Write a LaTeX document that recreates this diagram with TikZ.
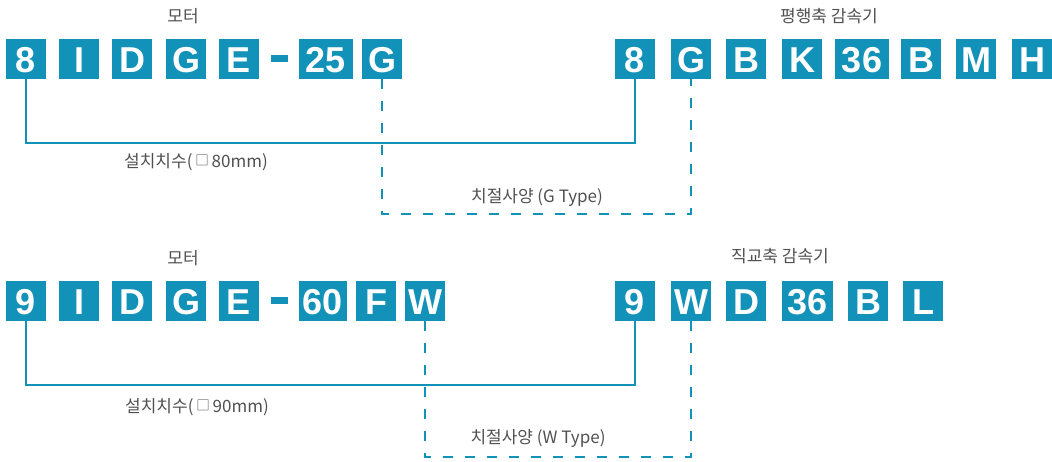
\documentclass[tikz,border=0pt]{standalone}
\usepackage{fontspec}
\setmainfont{Liberation Sans}
\newfontfamily\kofont{Noto Sans CJK KR}
\definecolor{codeblue}{RGB}{18,146,184}
\definecolor{labelgray}{RGB}{80,80,80}
\newcommand{\sqmark}{\,\raisebox{1.6pt}{\fontsize{13.5}{13.5}\selectfont □}\,}
\begin{document}
\begin{tikzpicture}[x=1pt, y=-1pt,
		code/.style={fill=codeblue, text=white, inner sep=0pt, minimum width=40pt, minimum height=40pt,
			text height=26pt, text depth=0pt, font=\fontsize{36}{36}\selectfont\bfseries},
		wide/.style={minimum width=#1},
		bar/.style={fill=codeblue, inner sep=0pt, minimum width=17pt, minimum height=7pt},
		tag/.style={text=labelgray, inner sep=0pt, font=\kofont\fontsize{17}{17}\selectfont},
		size line/.style={draw=codeblue, line width=1.1pt},
		type line/.style={draw=codeblue, line width=1.1pt, dash pattern=on 10pt off 12pt}
		]
	\useasboundingbox (0,0) rectangle (1052,461);

	% first model
	\node [tag] (mt1) at (183,16) {모터};
	\node [code] (m1) at (26,59) {8};
	\node [code] (m2) at (79,59) {I};
	\node [code] (m3) at (132,59) {D};
	\node [code] (m4) at (186,59) {G};
	\node [code] (m5) at (239,59) {E};
	\node [bar] (mb1) at (279.5,58.5) {};
	\node [code,wide=54pt] (m6) at (326,59) {25};
	\node [code] (m7) at (382,59) {G};

	\node [tag] (gt1) at (829,16) {평행축 감속기};
	\node [code] (g1) at (635,59) {8};
	\node [code] (g2) at (691,59) {G};
	\node [code] (g3) at (746,59) {B};
	\node [code] (g4) at (802,59) {K};
	\node [code,wide=54pt] (g5) at (862,59) {36};
	\node [code] (g6) at (921,59) {B};
	\node [code] (g7) at (976,59) {M};
	\node [code] (g8) at (1032,59) {H};

	\coordinate (s1) at (0,143);
	\coordinate (t1) at (0,214);
	\draw [size line] (m1.south) -- (m1.south |- s1) -- (g1.south |- s1) -- (g1.south);
	\draw [type line] (m7.south) -- (m7.south |- t1) -- (g2.south |- t1) -- (g2.south);
	\node [tag] (sl1) at (196,162) {설치치수(\sqmark80mm)};
	\node [tag] (tl1) at (537,197) {치절사양 (G Type)};

	% second model
	\node [tag] (mt2) at (183,258) {모터};
	\node [code] (n1) at (26,301) {9};
	\node [code] (n2) at (79,301) {I};
	\node [code] (n3) at (132,301) {D};
	\node [code] (n4) at (186,301) {G};
	\node [code] (n5) at (239,301) {E};
	\node [bar] (nb1) at (279.5,300.5) {};
	\node [code,wide=48pt] (n6) at (323,301) {60};
	\node [code] (n7) at (376,301) {F};
	\node [code] (n8) at (425,301) {W};

	\node [tag] (ht1) at (780,256) {직교축 감속기};
	\node [code] (h1) at (635,301) {9};
	\node [code] (h2) at (691,301) {W};
	\node [code] (h3) at (746,301) {D};
	\node [code,wide=51pt] (h4) at (807.5,301) {36};
	\node [code] (h5) at (868,301) {B};
	\node [code] (h6) at (923,301) {L};

	\coordinate (s2) at (0,385);
	\coordinate (t2) at (0,457);
	\draw [size line] (n1.south) -- (n1.south |- s2) -- (h1.south |- s2) -- (h1.south);
	\draw [type line] (n8.south) -- (n8.south |- t2) -- (h2.south |- t2) -- (h2.south);
	\node [tag] (sl2) at (197,407) {설치치수(\sqmark90mm)};
	\node [tag] (tl2) at (538,438) {치절사양 (W Type)};
\end{tikzpicture}
\end{document}
